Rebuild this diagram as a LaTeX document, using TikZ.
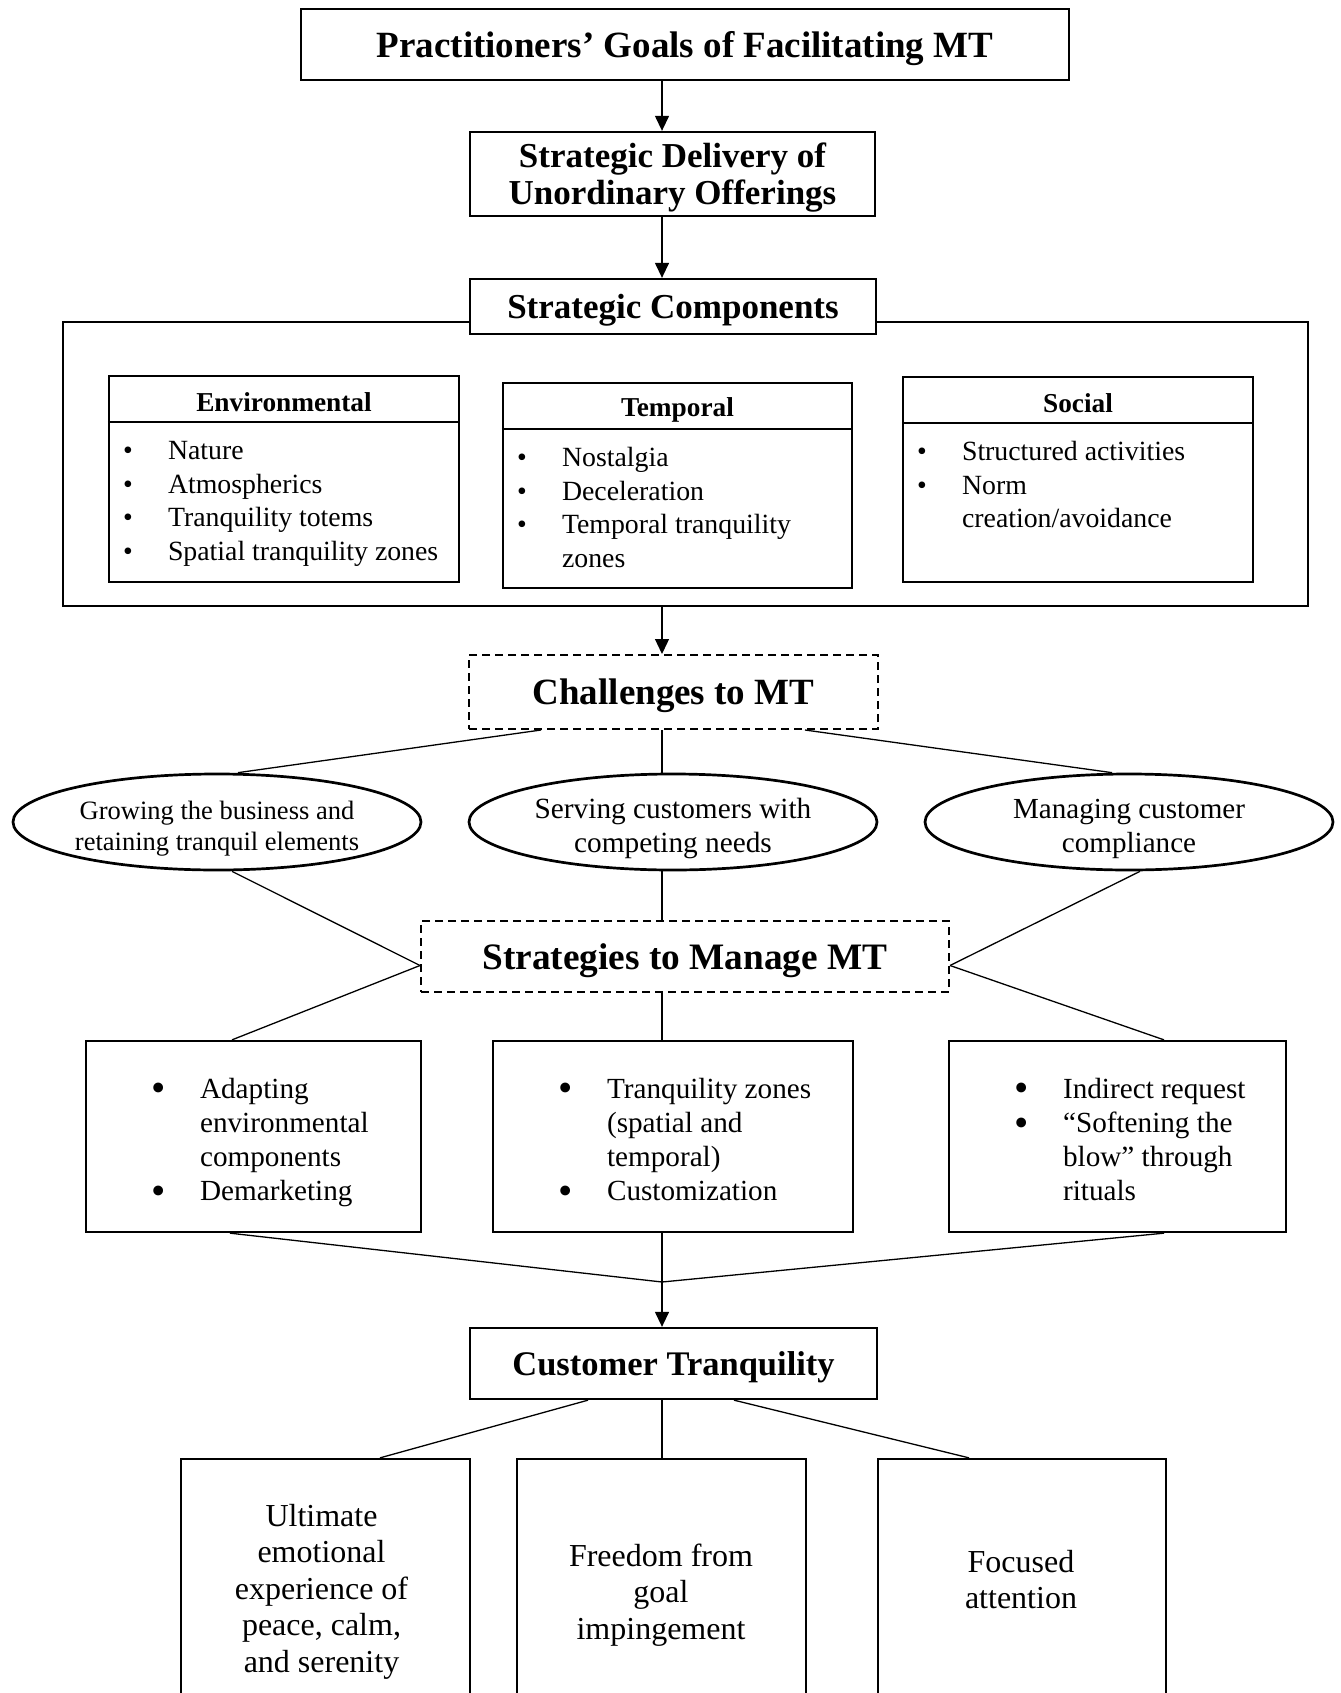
\documentclass[tikz,border=0pt]{standalone}
\usepackage{fontspec}
\setmainfont{Liberation Serif}
\usepackage{graphicx}
\usetikzlibrary{arrows.meta,shapes.geometric}
\newcommand{\myfs}[2]{\fontsize{#1pt}{#2pt}\selectfont}
\newcommand{\bigbul}{\raisebox{-3.5pt}{\scalebox{1.4}{\textbullet}}}
\tikzset{
  box/.style={draw, line width=2.3pt, fill=white, inner sep=0pt, align=center, text depth=0pt},
  dbox/.style={box, line width=2pt, dash pattern=on 8pt off 5pt},
  ell/.style={draw, ellipse, line width=2.7pt, inner sep=0pt, minimum width=408pt, minimum height=96pt},
  etxt/.style={inner sep=0pt, align=center},
  conn/.style={line width=1.3pt},
  arr/.style={conn, -{Triangle[length=15pt,width=14pt]}},
  hdr/.style={inner sep=0pt, font=\myfs{27.3}{32}\bfseries},
  lst/.style={inner sep=0pt, anchor=base west, font=\myfs{27.8}{33.5}},
  slst/.style={inner sep=0pt, anchor=base west, font=\myfs{29.2}{34.2}},
  btxt/.style={inner sep=0pt, anchor=base, font=\myfs{32}{36.6}},
}
\begin{document}
\begin{tikzpicture}[x=1pt, y=-1pt]
\path[use as bounding box, fill=white] (0,0) rectangle (1340,1693);
\clip (0,0) rectangle (1340,1693);
\coordinate (ax) at (662,0);

% top chain
\node[box, minimum width=768pt, minimum height=71pt, font=\myfs{37}{44}\bfseries] (goals) at (685,44.5) {Practitioners’ Goals of Facilitating MT};
\node[box, minimum width=405pt, minimum height=84pt, font=\myfs{35}{36.7}\bfseries] (deliv) at (672.5,174) {Strategic Delivery of\\Unordinary Offerings};

% container of components
\node[box, minimum width=1245pt, minimum height=284pt] (cont) at (685.5,464) {};
\node[box, minimum width=406pt, minimum height=55pt, font=\myfs{35}{40}\bfseries] (comp) at (673,306.5) {Strategic Components};

\draw[arr] (goals.south -| ax) -- (deliv.north -| ax);
\draw[arr] (deliv.south -| ax) -- (comp.north -| ax);

% component boxes
\node[box, minimum width=350pt, minimum height=206pt] (env) at (284,479) {};
\node[box, minimum width=349pt, minimum height=205pt] (temp) at (677.5,485.5) {};
\node[box, minimum width=350pt, minimum height=205pt] (soc) at (1078,479.5) {};
\draw[line width=2.3pt] ([yshift=-47pt]env.north west) -- ([yshift=-47pt]env.north east);
\draw[line width=2.3pt] ([yshift=-47pt]temp.north west) -- ([yshift=-47pt]temp.north east);
\draw[line width=2.3pt] ([yshift=-47pt]soc.north west) -- ([yshift=-47pt]soc.north east);
\node[hdr] (envh) at ([yshift=-27.5pt]env.north) {Environmental};
\node[hdr] (temph) at ([yshift=-28.5pt]temp.north) {Temporal};
\node[hdr] (soch) at ([yshift=-27.5pt]soc.north) {Social};
\node[lst] (envl) at ([xshift=15pt,yshift=-85pt]env.north west)
  {\begin{tabular}[t]{@{}p{45pt}@{}l@{}}\textbullet & Nature\\ \textbullet & Atmospherics\\ \textbullet & Tranquility totems\\ \textbullet & Spatial tranquility zones\end{tabular}};
\node[lst] (templ) at ([xshift=15pt,yshift=-85pt]temp.north west)
  {\begin{tabular}[t]{@{}p{45pt}@{}l@{}}\textbullet & Nostalgia\\ \textbullet & Deceleration\\ \textbullet & Temporal tranquility\\ & zones\end{tabular}};
\node[lst] (socl) at ([xshift=15pt,yshift=-85pt]soc.north west)
  {\begin{tabular}[t]{@{}p{45pt}@{}l@{}}\textbullet & Structured activities\\ \textbullet & Norm\\ & creation/avoidance\end{tabular}};

% challenges
\node[dbox, minimum width=409pt, minimum height=74pt, font=\myfs{37}{44}\bfseries] (chal) at (673.5,692) {Challenges to MT};
\draw[arr] (cont.south -| ax) -- (chal.north -| ax);

\node[ell] (ell1) at (217,822) {};
\node[ell] (ell2) at (673,822) {};
\node[ell] (ell3) at (1129,822) {};
\node[etxt, font=\myfs{26.5}{31.3}] (et1) at ([yshift=-6.5pt]ell1.center) {Growing the business and\\retaining tranquil elements};
\node[etxt, font=\myfs{29.3}{34.5}] (et2) at ([yshift=-6.5pt]ell2.center) {Serving customers with\\competing needs};
\node[etxt, font=\myfs{29.1}{34.5}] (et3) at ([yshift=-7pt]ell3.center) {Managing customer\\compliance};

\draw[conn] ([xshift=73pt]chal.south west) -- ([xshift=21pt]ell1.north);
\draw[conn] (chal.south -| ax) -- (ell2.north -| ax);
\draw[conn] ([xshift=-74pt]chal.south east) -- ([xshift=-17pt]ell3.north);

% strategies
\node[dbox, minimum width=528pt, minimum height=71pt, font=\myfs{37.3}{44}\bfseries] (strat) at (685,956.5) {Strategies to Manage MT};
\coordinate (sw) at ([yshift=-9pt]strat.west);
\coordinate (se) at ([yshift=-9pt]strat.east);
\draw[conn] ([xshift=15pt]ell1.south) -- (sw);
\draw[conn] (ell2.south -| ax) -- (strat.north -| ax);
\draw[conn] ([xshift=11pt]ell3.south) -- (se);

\node[box, minimum width=335pt, minimum height=191pt] (sb1) at (253.5,1136.5) {};
\node[box, minimum width=360pt, minimum height=191pt] (sb2) at (673,1136.5) {};
\node[box, minimum width=337pt, minimum height=191pt] (sb3) at (1117.5,1136.5) {};
\draw[conn] (sw) -- ([xshift=-21.5pt]sb1.north);
\draw[conn] (strat.south -| ax) -- (sb2.north -| ax);
\draw[conn] (se) -- ([xshift=46.5pt]sb3.north);

\node[slst] (sl1) at ([xshift=66pt,yshift=-58.5pt]sb1.north west)
  {\begin{tabular}[t]{@{}p{49pt}@{}l@{}}\bigbul & Adapting\\ & environmental\\ & components\\ \bigbul & Demarketing\end{tabular}};
\node[slst] (sl2) at ([xshift=66pt,yshift=-58.5pt]sb2.north west)
  {\begin{tabular}[t]{@{}p{49pt}@{}l@{}}\bigbul & Tranquility zones\\ & (spatial and\\ & temporal)\\ \bigbul & Customization\end{tabular}};
\node[slst] (sl3) at ([xshift=66pt,yshift=-58.5pt]sb3.north west)
  {\begin{tabular}[t]{@{}p{49pt}@{}l@{}}\bigbul & Indirect request\\ \bigbul & “Softening the\\ & blow” through\\ & rituals\end{tabular}};

% convergence
\coordinate (jn) at (662,1282);
\node[box, minimum width=407pt, minimum height=71pt, font=\myfs{34.5}{40}\bfseries] (ct) at (673.5,1363.5) {Customer Tranquility};
\draw[conn] ([xshift=-23.5pt]sb1.south) -- (jn);
\draw[conn] (sb2.south -| ax) -- (jn);
\draw[conn] ([xshift=46.5pt]sb3.south) -- (jn);
\draw[arr] (jn) -- (ct.north -| ax);

% outcomes
\node[box, minimum width=289pt, minimum height=271pt] (bb1) at (325.5,1594.5) {};
\node[box, minimum width=289pt, minimum height=271pt] (bb2) at (661.5,1594.5) {};
\node[box, minimum width=288pt, minimum height=271pt] (bb3) at (1022,1594.5) {};
\draw[conn] ([xshift=-85.5pt]ct.south) -- ([xshift=54.5pt]bb1.north);
\draw[conn] (ct.south -| ax) -- (bb2.north -| ax);
\draw[conn] ([xshift=60.5pt]ct.south) -- ([xshift=-53pt]bb3.north);

\node[btxt] (bt1) at (321.5,1526) {\begin{tabular}[t]{@{}c@{}}Ultimate\\emotional\\experience of\\peace, calm,\\and serenity\end{tabular}};
\node[btxt] (bt2) at (661,1566) {\begin{tabular}[t]{@{}c@{}}Freedom from\\goal\\impingement\end{tabular}};
\node[btxt] (bt3) at (1021,1572) {\begin{tabular}[t]{@{}c@{}}Focused\\attention\end{tabular}};
\end{tikzpicture}
\end{document}
